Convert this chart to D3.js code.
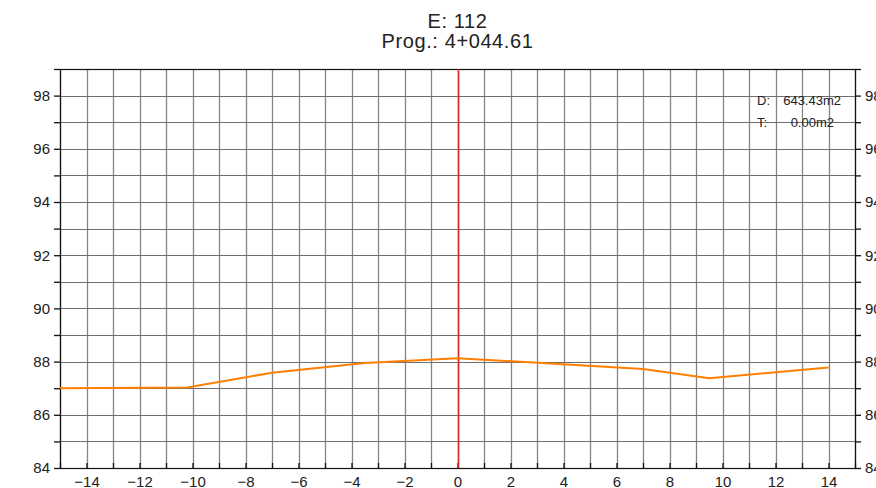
<!DOCTYPE html>
<html>
<head>
<meta charset="utf-8">
<style>
  body { margin: 0; background: #fff; }
  text { font-family: "Liberation Sans", sans-serif; fill: #222; }
</style>
</head>
<body>
<svg width="876" height="488"></svg>
<script src="https://cdn.jsdelivr.net/npm/d3@7/dist/d3.min.js"></script>
<script>
/* Cross section E: 112 */
var titleLines = ["E: 112", "Prog.: 4+044.61"];
var areaLabels = ["D:", "T:"];
var areaValues = ["643.43m2", "0.00m2"];

/* Terrain profile: offset (m) and elevation (m) */
var offsets = [-15, -10.2, -7, -3.5, 0, 7, 9.5, 14];
var elevations = [87.00, 87.03, 87.58, 87.95, 88.13, 87.72, 87.37, 87.78];

var xTickLabels = [-14, -12, -10, -8, -6, -4, -2, 0, 2, 4, 6, 8, 10, 12, 14];
var yTickLabels = [84, 86, 88, 90, 92, 94, 96, 98];
var xDomain = [-15, 15];
var yDomain = [84, 99];
var centerOffset = 0;

var svg = d3.select("svg");
var margin = {top: 69, right: 21, bottom: 20, left: 60};
var width = +svg.attr("width") - margin.left - margin.right;
var height = +svg.attr("height") - margin.top - margin.bottom;
var group = svg.append("g").attr("transform", "translate(" + margin.left + "," + margin.top + ")");

var x = d3.scaleLinear().domain(xDomain).range([0, width]);
var y = d3.scaleLinear().domain(yDomain).range([height, 0]);

var xEvery = d3.range(xDomain[0], xDomain[1] + 1, 1);
var yEvery = d3.range(yDomain[0], yDomain[1] + 1, 1);

function fmt(d) {
  return d < 0 ? "\u2212" + Math.abs(d) : "" + d;
}

/* grid, one line per metre */
group.append("g")
    .selectAll("line")
    .data(xEvery)
    .enter().append("line")
      .attr("x1", function(d) { return Math.round(x(d)) + 0.5; })
      .attr("x2", function(d) { return Math.round(x(d)) + 0.5; })
      .attr("y1", 0)
      .attr("y2", height)
      .attr("stroke", "#858585")
      .attr("stroke-width", 1.3);

group.append("g")
    .selectAll("line")
    .data(yEvery)
    .enter().append("line")
      .attr("x1", 0)
      .attr("x2", width)
      .attr("y1", function(d) { return Math.round(y(d)) + 0.5; })
      .attr("y2", function(d) { return Math.round(y(d)) + 0.5; })
      .attr("stroke", "#6e6e6e")
      .attr("stroke-width", 1.2);

/* frame */
group.append("rect")
    .attr("x", 0.5)
    .attr("y", 0.5)
    .attr("width", Math.round(width))
    .attr("height", Math.round(height))
    .attr("fill", "none")
    .attr("stroke", "#111")
    .attr("stroke-width", 1.2);

/* axes */
function styleAxis(g) {
  g.select(".domain").remove();
  g.selectAll(".tick line").attr("stroke", "#111").attr("stroke-width", 1.3);
  g.selectAll(".tick text")
      .attr("font-family", "Liberation Sans, sans-serif")
      .attr("font-size", 15)
      .attr("fill", "#333");
}

group.append("g")
    .call(d3.axisLeft(y).tickValues(yEvery).tickSize(6).tickPadding(4)
      .tickFormat(function(d) { return yTickLabels.indexOf(d) >= 0 ? fmt(d) : ""; }))
    .call(styleAxis);

group.append("g")
    .attr("transform", "translate(" + width + ",0)")
    .call(d3.axisRight(y).tickValues(yEvery).tickSize(6).tickPadding(4)
      .tickFormat(function(d) { return yTickLabels.indexOf(d) >= 0 ? fmt(d) : ""; }))
    .call(styleAxis);

group.append("g")
    .attr("transform", "translate(0," + height + ")")
    .call(d3.axisBottom(x).tickValues(xEvery).tickSize(-5).tickPadding(8)
      .tickFormat(function(d) { return xTickLabels.indexOf(d) >= 0 ? fmt(d) : ""; }))
    .call(styleAxis);

/* centre line */
group.append("line")
    .attr("x1", Math.round(x(centerOffset)) + 0.5)
    .attr("x2", Math.round(x(centerOffset)) + 0.5)
    .attr("y1", 0)
    .attr("y2", height)
    .attr("stroke", "#d42a2a")
    .attr("stroke-width", 1.5);

/* terrain */
var line = d3.line()
    .x(function(d, i) { return x(offsets[i]); })
    .y(function(d) { return y(d); });

group.append("path")
    .datum(elevations)
    .attr("fill", "none")
    .attr("stroke", "#ff8000")
    .attr("stroke-width", 2)
    .attr("d", line);

/* title */
svg.append("g")
    .selectAll("text")
    .data(titleLines)
    .enter().append("text")
      .attr("x", margin.left + x(0))
      .attr("y", function(d, i) { return 28 + i * 20; })
      .attr("text-anchor", "middle")
      .attr("font-size", 20)
      .attr("letter-spacing", 0.6)
      .attr("fill", "#333")
      .text(function(d) { return d; });

/* areas */
var areas = svg.append("g")
    .selectAll("g")
    .data(areaLabels)
    .enter().append("g")
      .attr("transform", function(d, i) { return "translate(0," + (105 + i * 22) + ")"; });

areas.append("text")
    .attr("x", 757)
    .attr("font-size", 13)
    .attr("fill", "#111")
    .text(function(d) { return d; });

areas.append("text")
    .attr("x", function(d, i) { return i === 0 ? 841 : 834; })
    .attr("text-anchor", "end")
    .attr("font-size", 13)
    .attr("fill", "#111")
    .text(function(d, i) { return areaValues[i]; });
</script>
</body>
</html>
